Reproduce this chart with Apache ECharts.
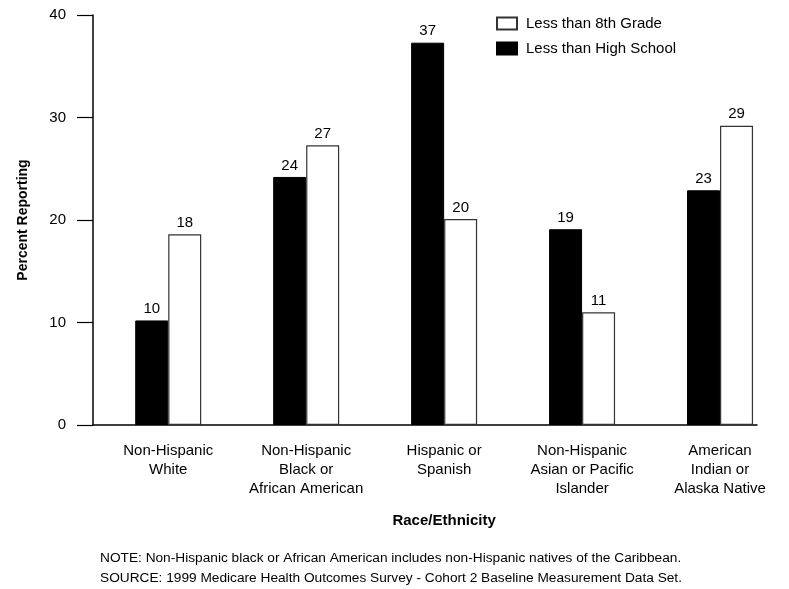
<!DOCTYPE html>
<html>
<head>
<meta charset="utf-8">
<script src="https://cdn.jsdelivr.net/npm/echarts@6/dist/echarts.min.js"></script>
<style>html,body{margin:0;padding:0;background:#fff}#c{width:789px;height:589px}</style>
</head>
<body>
<div id="c"></div>
<script>
var categories = ['Non-Hispanic\nWhite', 'Non-Hispanic\nBlack or\nAfrican American', 'Hispanic or\nSpanish', 'Non-Hispanic\nAsian or Pacific\nIslander', 'American\nIndian or\nAlaska Native'];
var lessThanHighSchool = [10.2, 24.2, 37.3, 19.1, 22.9];
var lessThan8thGrade = [18.6, 27.3, 20.1, 11.0, 29.2];
var labelsHighSchool = ['10', '24', '37', '19', '23'];
var labels8thGrade = ['18', '27', '20', '11', '29'];
var yTicks = [0, 10, 20, 30, 40];

var FONT = '"Liberation Sans", Arial, Helvetica, sans-serif';
var chart = echarts.init(document.getElementById('c'), null, {renderer: 'canvas'});
chart.setOption({
  animation: false,
  backgroundColor: '#fff',
  textStyle: {fontFamily: FONT, color: '#000'},
  title: {
    text: 'NOTE: Non-Hispanic black or African American includes non-Hispanic natives of the Caribbean.\nSOURCE: 1999 Medicare Health Outcomes Survey - Cohort 2 Baseline Measurement Data Set.',
    left: 95, top: 543,
    textStyle: {fontFamily: FONT, fontSize: 13.7, fontWeight: 'normal', color: '#000', lineHeight: 20}
  },
  legend: {
    orient: 'vertical', left: 491, top: 11,
    itemWidth: 20, itemHeight: 12, itemGap: 10, icon: 'rect',
    data: ['Less than 8th Grade', 'Less than High School'],
    textStyle: {fontFamily: FONT, fontSize: 15, color: '#000', padding: [0, 0, 0, 4]}
  },
  grid: [
    {left: 99.25, width: 697.5, top: 15, height: 410},
    {left: 93, width: 664, top: 15, height: 410}
  ],
  xAxis: [
    {
      type: 'category', gridIndex: 0, data: categories,
      axisLine: {show: false}, axisTick: {show: false},
      axisLabel: {fontFamily: FONT, fontSize: 15, color: '#000', lineHeight: 19, margin: 16, interval: 0},
      name: 'Race/Ethnicity', nameLocation: 'middle', nameGap: 88,
      nameTextStyle: {fontFamily: FONT, fontSize: 15, fontWeight: 'bold', color: '#000'}
    },
    {
      type: 'category', gridIndex: 1, data: [''],
      axisLine: {show: true, lineStyle: {color: '#000', width: 1.5}},
      axisTick: {show: false}, axisLabel: {show: false}
    }
  ],
  yAxis: [
    {type: 'value', gridIndex: 0, min: 0, max: 40, interval: 10, show: false},
    {
      type: 'value', gridIndex: 1, min: yTicks[0], max: yTicks[yTicks.length - 1], interval: 10,
      axisLine: {show: true, lineStyle: {color: '#000', width: 1.5}},
      axisTick: {show: true, inside: false, length: 16, lineStyle: {color: '#000', width: 1.2}},
      axisLabel: {fontFamily: FONT, fontSize: 15, color: '#000', margin: 27},
      splitLine: {show: false},
      name: 'Percent Reporting', nameLocation: 'middle', nameGap: 63, nameRotate: 90,
      nameTextStyle: {fontFamily: FONT, fontSize: 14, fontWeight: 'bold', color: '#000'}
    }
  ],
  series: [
    {
      name: 'Less than High School', type: 'bar', xAxisIndex: 0, yAxisIndex: 0,
      data: lessThanHighSchool, barWidth: 33, barGap: '0%',
      itemStyle: {color: '#000', borderColor: '#000', borderWidth: 1},
      label: {show: true, position: 'top', distance: 4, fontFamily: FONT, fontSize: 15, color: '#000',
        formatter: function (p) { return labelsHighSchool[p.dataIndex]; }}
    },
    {
      name: 'Less than 8th Grade', type: 'bar', xAxisIndex: 0, yAxisIndex: 0,
      data: lessThan8thGrade, barWidth: 33, barGap: '0%',
      itemStyle: {color: '#fff', borderColor: '#333', borderWidth: 1.2},
      label: {show: true, position: 'top', distance: 4, fontFamily: FONT, fontSize: 15, color: '#000',
        formatter: function (p) { return labels8thGrade[p.dataIndex]; }}
    }
  ]
});
</script>
</body>
</html>
